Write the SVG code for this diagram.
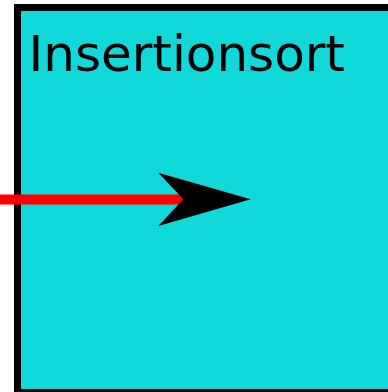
<svg xmlns="http://www.w3.org/2000/svg" width="388" height="392" viewBox="0 0 388 392">
<style>
.box{fill:#11d9d9;stroke:#000;stroke-width:7}
.lbl{font-family:"DejaVu Sans",sans-serif;font-size:50px;fill:#000}
.edge{stroke:#ff0000;stroke-width:10;fill:none}
</style>
<g id="insertionsort">
<rect class="box" x="17.5" y="7.5" width="400" height="385"/>
<text class="lbl" x="28.5" y="71">Insertionsort</text>
</g>
<g id="connectors">
<line class="edge" x1="0" y1="199.5" x2="185" y2="199.5"/>
<polygon points="250.7,199.3 158.3,172.7 183.3,199.3 158.3,226" fill="#000"/>
</g>
</svg>
